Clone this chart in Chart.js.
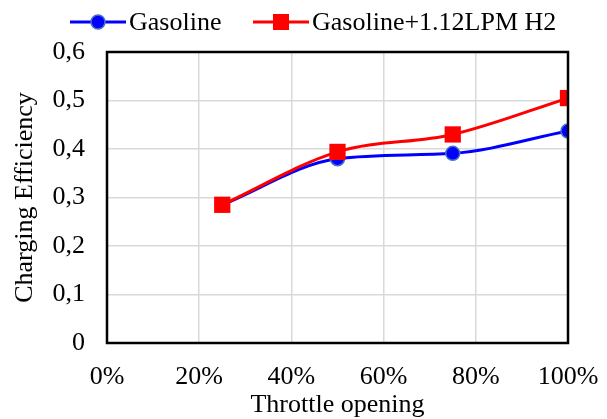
<!DOCTYPE html>
<html>
<head>
<meta charset="utf-8">
<script src="https://cdn.jsdelivr.net/npm/chart.js@4"></script>
<style>
  html, body { margin: 0; padding: 0; background: #fff; }
  #wrap { width: 607px; height: 419px; }
</style>
</head>
<body>
<div id="wrap"><canvas id="chartCharging"></canvas></div>
<script>
// throttle opening (%) and charging efficiency
const throttle = [25, 50, 75, 100];
const gasoline = [0.285, 0.380, 0.391, 0.437];
const gasolineH2 = [0.285, 0.394, 0.430, 0.505];
const seriesNames = ['Gasoline', 'Gasoline+1.12LPM H2'];

const FONT = '"Liberation Serif", "Times New Roman", serif';
const SIZE = 26;

function pts(vals) {
    return vals.map((v, i) => ({ x: throttle[i], y: v }));
}

// frame round the plot area
const frame = {
    id: 'frame',
    afterDatasetsDraw(chart) {
        const a = chart.chartArea, c = chart.ctx;
        c.save();
        c.strokeStyle = '#000';
        c.lineWidth = 2.5;
        c.strokeRect(a.left, a.top, a.right - a.left, a.bottom - a.top);
        c.restore();
    }
};

// legend drawn as line + marker, like the original
const lineLegend = {
    id: 'lineLegend',
    afterDraw(chart) {
        const c = chart.ctx;
        const items = [
            { x: 70, color: '#0000ff', style: 'circle', text: seriesNames[0] },
            { x: 253, color: '#ff0000', style: 'rect', text: seriesNames[1] }
        ];
        const y = 22;
        c.save();
        c.font = SIZE + 'px ' + FONT;
        c.textBaseline = 'alphabetic';
        items.forEach(it => {
            c.strokeStyle = it.color;
            c.lineWidth = 3;
            c.beginPath();
            c.moveTo(it.x, y);
            c.lineTo(it.x + 56, y);
            c.stroke();
            c.fillStyle = it.color;
            if (it.style === 'circle') {
                c.beginPath();
                c.arc(it.x + 28, y, 7, 0, Math.PI * 2);
                c.fill();
                c.strokeStyle = '#4472c4';
                c.lineWidth = 1.5;
                c.stroke();
            } else {
                c.fillRect(it.x + 20, y - 8, 16, 16);
            }
            c.fillStyle = '#000';
            c.fillText(it.text, it.x + 59, 30);
        });
        c.restore();
    }
};

new Chart(document.getElementById('chartCharging'), {
    type: 'line',
    data: {
        datasets: [{
            label: seriesNames[0],
            data: pts(gasoline),
            borderColor: '#0000ff',
            backgroundColor: '#0000ff',
            borderWidth: 3,
            cubicInterpolationMode: 'monotone',
            pointStyle: 'circle',
            pointRadius: 7,
            pointBorderColor: '#4472c4',
            pointBorderWidth: 1.5,
            order: 2
        }, {
            label: seriesNames[1],
            data: pts(gasolineH2),
            borderColor: '#ff0000',
            backgroundColor: '#ff0000',
            borderWidth: 3,
            cubicInterpolationMode: 'monotone',
            pointStyle: 'rect',
            pointRadius: 11.5,
            pointBorderWidth: 0,
            order: 1
        }]
    },
    options: {
        responsive: true,
        maintainAspectRatio: false,
        animation: false,
        layout: { padding: { top: 52, right: 39, left: 0, bottom: 0 } },
        plugins: {
            legend: { display: false },
            tooltip: { enabled: false }
        },
        scales: {
            x: {
                type: 'linear',
                min: 0,
                max: 100,
                ticks: {
                    stepSize: 20,
                    color: '#000',
                    font: { family: FONT, size: SIZE, lineHeight: 1 },
                    padding: 21,
                    maxRotation: 0,
                    callback: v => v + '%'
                },
                grid: { color: '#d9d9d9', lineWidth: 1.5, drawTicks: false },
                border: { display: false },
                title: {
                    display: true,
                    text: 'Throttle opening',
                    color: '#000',
                    font: { family: FONT, size: SIZE, lineHeight: 1 },
                    padding: { top: 2, bottom: 1 }
                },
                afterFit: s => {
                    s.height = 76;
                    s.paddingLeft = 0;
                    s.paddingRight = 0;
                }
            },
            y: {
                min: 0,
                max: 0.6,
                ticks: {
                    stepSize: 0.1,
                    color: '#000',
                    font: { family: FONT, size: SIZE, lineHeight: 1 },
                    padding: 22,
                    callback: v => v === 0 ? '0' : v.toFixed(1).replace('.', ',')
                },
                grid: { color: '#d9d9d9', lineWidth: 1.5, drawTicks: false },
                border: { display: false },
                title: {
                    display: true,
                    text: 'Charging Efficiency',
                    color: '#000',
                    font: { family: FONT, size: SIZE, lineHeight: 1 },
                    padding: { top: 12, bottom: 0 }
                },
                afterFit: s => {
                    s.width = 107;
                    s.paddingTop = 0;
                    s.paddingBottom = 0;
                }
            }
        }
    },
    plugins: [frame, lineLegend]
});
</script>
</body>
</html>
